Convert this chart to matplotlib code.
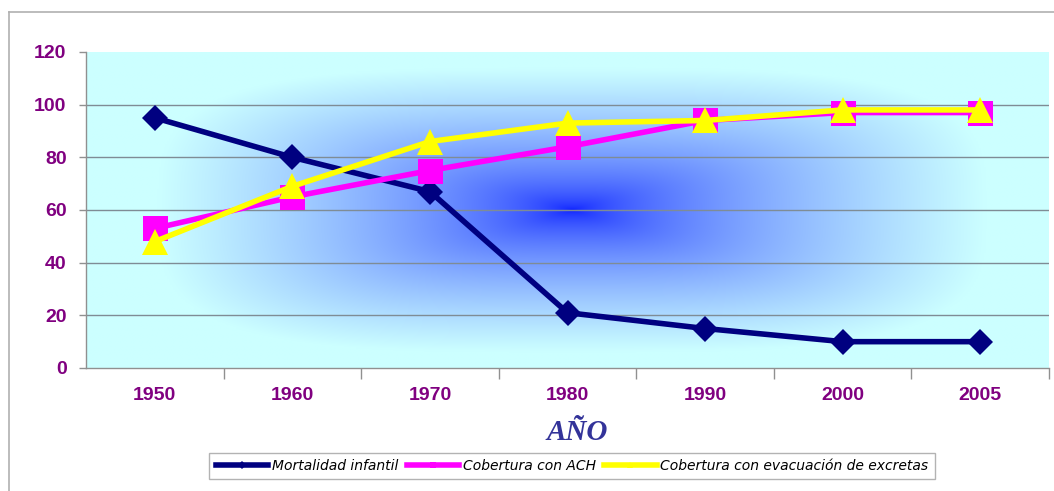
import numpy as np
import matplotlib
matplotlib.use('Agg')
import matplotlib.pyplot as plt
from matplotlib.lines import Line2D

years = ['1950', '1960', '1970', '1980', '1990', '2000', '2005']
mortalidad = [95, 80, 67, 21, 15, 10, 10]
cobertura_ach = [53, 65, 75, 84, 94, 97, 97]
cobertura_excretas = [48, 69, 86, 93, 94, 98, 98]
yticks = [0, 20, 40, 60, 80, 100, 120]

fig = plt.figure(figsize=(10.54, 4.91), dpi=100)
ax = fig.add_axes([86 / 1054, 123 / 491, 963 / 1054, 316 / 491])

# gradient background, blue in the centre fading to light cyan
gx, gy = np.meshgrid(np.linspace(0, 1, 600), np.linspace(0, 1, 300))
u = np.abs(gx - 0.505) / 0.43
v = np.abs(gy - 0.5) / 0.45
t = (u ** 3.5 + v ** 3.5) ** (1 / 3.5)
s = np.clip(t, 0, 1) ** 0.6
center = np.array([10, 30, 255]) / 255
outer = np.array([204, 255, 255]) / 255
img = center[None, None, :] * (1 - s[..., None]) + outer[None, None, :] * s[..., None]
ax.imshow(img, extent=[0, 1, 0, 1], transform=ax.transAxes, aspect='auto',
          origin='lower', zorder=0, interpolation='bilinear')

x = np.arange(len(years))
ax.plot(x, mortalidad, color='#000080', lw=4, marker='D', ms=13.5, mew=0,
        label='Mortalidad infantil', zorder=3)
ax.plot(x, cobertura_ach, color='#FF00FF', lw=4, marker='s', ms=18, mew=0,
        label='Cobertura con ACH', zorder=4)
ax.plot(x, cobertura_excretas, color='#FFFF00', lw=4, marker='^', ms=19, mew=0,
        label='Cobertura con evacuación de excretas', zorder=5)

ax.set_xlim(-0.5, len(years) - 0.5)
ax.set_ylim(0, 120)
ax.set_yticks(yticks)
for yv in yticks[1:-1]:
    ax.axhline(yv, color='#7f8c95', lw=1, zorder=1)

ax.set_xticks(x)
ax.set_xticklabels(years)
ax.set_xticks(np.arange(0.5, len(years)), minor=True)
ax.tick_params(axis='x', which='major', length=0, pad=14)
ax.tick_params(axis='x', which='minor', length=8, color='#909090', width=1)
ax.tick_params(axis='y', length=5, color='#909090', width=1, pad=9)
for lbl in ax.get_xticklabels() + ax.get_yticklabels():
    lbl.set_fontfamily('Liberation Sans')
    lbl.set_fontweight('bold')
    lbl.set_fontsize(14)
    lbl.set_color('#800080')

for side in ['top', 'right']:
    ax.spines[side].set_visible(False)
for side in ['left', 'bottom']:
    ax.spines[side].set_color('#909090')
    ax.spines[side].set_linewidth(1)
ax.spines['bottom'].set_zorder(6)

fig.text(577 / 1054, 1 - 432 / 491, 'AÑO', ha='center', va='center',
         fontfamily='Liberation Serif', fontweight='bold', fontstyle='italic',
         fontsize=21, color='#333399')

handles = [
    Line2D([], [], color='#000080', lw=4, marker='D', ms=4, mew=0),
    Line2D([], [], color='#FF00FF', lw=4, marker='s', ms=5, mew=0),
    Line2D([], [], color='#FFFF00', lw=4, marker='^', ms=5, mew=0),
]
labels = ['Mortalidad infantil', 'Cobertura con ACH', 'Cobertura con evacuación de excretas']
leg = fig.legend(handles, labels, loc='center', bbox_to_anchor=(572 / 1054, 25 / 491),
                 ncol=3, numpoints=1, frameon=True, fancybox=False, handlelength=3.8,
                 handletextpad=0.25, columnspacing=0.6, borderpad=0.45,
                 prop={'family': 'DejaVu Sans', 'style': 'italic', 'size': 10})
leg.get_frame().set_edgecolor('#a0a0a0')
leg.get_frame().set_linewidth(1)

# outer chart border
fig.add_artist(Line2D([9 / 1054, 9 / 1054], [0, 1 - 12 / 491], color='#b0b0b0', lw=1.2))
fig.add_artist(Line2D([9 / 1054, 1], [1 - 12 / 491, 1 - 12 / 491], color='#b0b0b0', lw=1.2))

fig.savefig('out.png', dpi=100)
